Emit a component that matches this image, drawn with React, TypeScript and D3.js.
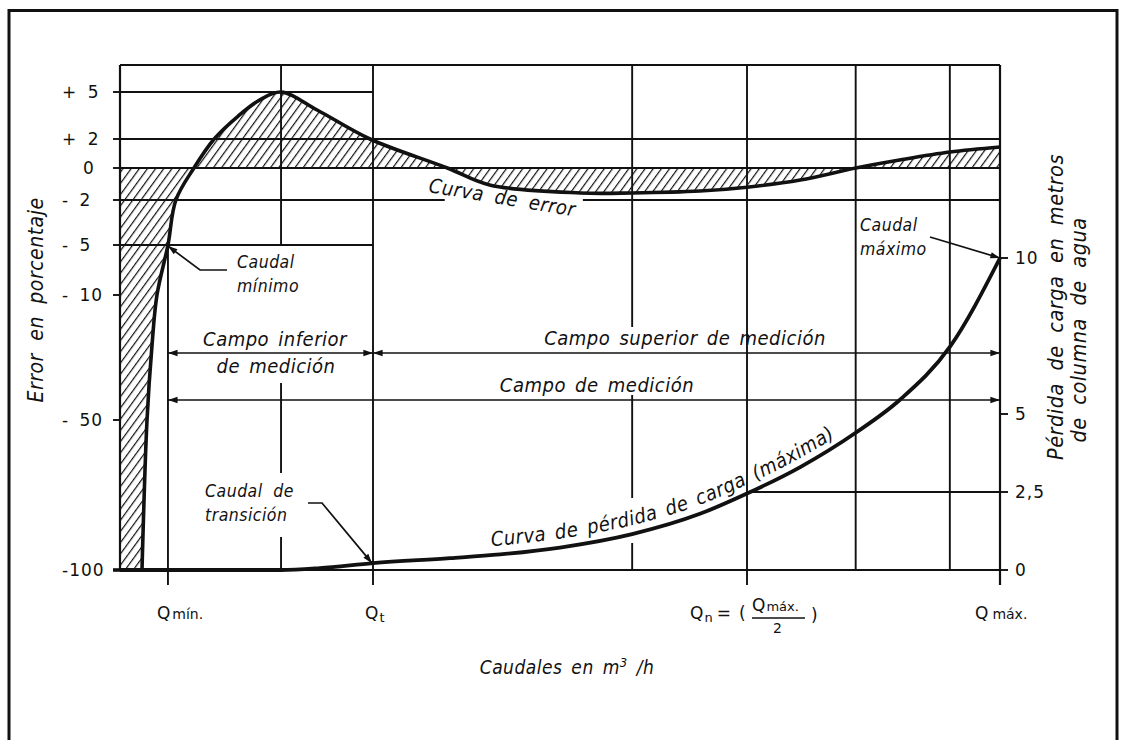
import React from 'react';
import * as d3 from 'd3';

// ---------- data ----------
// x is flow in arbitrary units: 0 = axis origin, 100 = Q máx.
const flowTickQ = [5.45, 28.75, 71.25, 100]; // Qmín, Qt, Qn, Qmáx
const extraGridQ = [18.3, 58.2, 83.6, 94.3];

const errTicks = [5, 2, 0, -2, -5, -10, -50, -100];
const errTickLabels = ['+ 5', '+ 2', '0', '- 2', '- 5', '- 10', '- 50', '-100'];

const lossTicks = [10, 5, 2.5, 0];
const lossTickLabels = ['10', '5', '2,5', '0'];

// error curve (% error vs flow)
const errQ = [2.5, 3.07, 3.64, 4.2, 5.45, 6.35, 8.4, 10.7, 13.4, 15.9, 18.3, 22.4, 28.4, 37.2, 42.0, 52.3, 58.2, 65.9, 71.25, 77.3, 83.6, 88.6, 94.3, 100];
const errVal = [-100, -50, -26, -10, -5, -2, 0, 2, 3.45, 4.5, 5, 3.85, 2, 0, -1.06, -1.56, -1.56, -1.44, -1.2, -0.75, 0, 0.55, 1.1, 1.45];

// head-loss curve (m water column vs flow)
const lossQ = [0, 18.3, 22.7, 28.75, 37.5, 43.2, 50, 58.2, 65.9, 71.25, 77.3, 83.6, 88.6, 94.3, 100];
const lossVal = [0, 0, 0.06, 0.22, 0.38, 0.5, 0.72, 1.15, 1.8, 2.45, 3.3, 4.4, 5.45, 7.15, 10];

// ---------- layout ----------
const W = 1123;
const H = 740;
const FONT = "'DejaVu Sans Condensed', 'Liberation Sans Narrow', 'DejaVu Sans', sans-serif";
const FONT_UP = "'DejaVu Sans', sans-serif";

export default function App() {
  const x = d3.scaleLinear().domain([0, 100]).range([120, 1000]);
  const yErr = d3
    .scaleLinear()
    .domain([-100, -50, -10, -5, -2, 0, 2, 5])
    .range([570, 420, 295, 245, 200, 168, 139, 92]);
  const yLoss = d3.scaleLinear().domain([0, 10]).range([570, 258]);

  const top = 65;
  const bottom = yErr(-100);
  const tickLen = 7;
  const below = bottom + 15;

  const errPts = errQ.map((q, i) => [x(q), yErr(errVal[i])] as [number, number]);
  const lossPts = lossQ.map((q, i) => [x(q), yLoss(lossVal[i])] as [number, number]);

  const curve = d3.line().curve(d3.curveCatmullRom.alpha(0.5));
  const mono = d3.line().curve(d3.curveMonotoneX);
  const errPath = curve(errPts) as string;
  const lossPath = mono(lossPts) as string;
  const lossLabelPath = mono(lossPts.map(([a, b]) => [a, b - 9] as [number, number])) as string;

  const hatchPath =
    `M${x(0)},${yErr(-100)} L` +
    errPath.slice(1) +
    ` L${x(100)},${yErr(0)} L${x(0)},${yErr(0)} Z`;

  // horizontal grid spans [fromQ, toQ] for each error tick
  const hSpans: Record<string, [number, number][]> = {
    '5': [[0, 28.75]],
    '2': [[0, 100]],
    '0': [[0, 100]],
    '-2': [[0, 36.9], [52.6, 100]],
    '-5': [[0, 28.75]],
    '-10': [],
    '-50': [],
    '-100': [[0, 100]],
  };

  // vertical grid segments (pixel y ranges) per flow position
  const vSegs: [number, [number, number][]][] = [
    [0, [[top, bottom]]],
    [flowTickQ[0], [[yErr(-5), below]]],
    [extraGridQ[0], [[top, yErr(-5)], [383, 473], [537, bottom]]],
    [flowTickQ[1], [[top, below]]],
    [extraGridQ[1], [[top, 327], [395, 498], [543, bottom]]],
    [flowTickQ[2], [[top, below]]],
    [extraGridQ[2], [[top, bottom]]],
    [extraGridQ[3], [[top, bottom]]],
    [flowTickQ[3], [[top, below]]],
  ];

  const ital = {
    fontFamily: FONT,
    fontStyle: 'italic' as const,
    fontSize: 20,
    letterSpacing: 0.5,
    wordSpacing: 3,
    fill: '#111',
  };
  const small = { ...ital, fontSize: 17.5 };
  const title = { ...ital, fontSize: 21.5, wordSpacing: 6 };
  const upright = { fontFamily: FONT_UP, fontSize: 17, fill: '#111', wordSpacing: 4, letterSpacing: 1 };
  const gridStroke = { stroke: '#111', strokeWidth: 1.9, fill: 'none' };

  return (
    <svg
      width={W}
      height={H}
      viewBox={`0 0 ${W} ${H}`}
      style={{ position: 'absolute', left: 0, top: 0, background: '#fff' }}
    >
      <defs>
        <pattern id="hatch" patternUnits="userSpaceOnUse" width="6.6" height="10" patternTransform="rotate(36)">
          <line x1="0" y1="-2" x2="0" y2="12" stroke="#111" strokeWidth="2.4" />
        </pattern>
        <marker
          id="arr"
          viewBox="0 0 12 10"
          refX="12"
          refY="5"
          markerWidth="13"
          markerHeight="8"
          markerUnits="userSpaceOnUse"
          orient="auto-start-reverse"
        >
          <path d="M0,1 L12,5 L0,9 Z" fill="#111" />
        </marker>
      </defs>

      <rect x={0} y={0} width={W} height={H} fill="#fff" />
      {/* outer frame */}
      <rect x={9} y={10.5} width={1108} height={800} fill="none" stroke="#111" strokeWidth={3} />

      {/* top border of plot */}
      <line x1={x(0)} x2={x(100)} y1={top} y2={top} {...gridStroke} />

      {/* horizontal grid and left ticks */}
      {errTicks.map((e) => (
        <g key={`h${e}`}>
          <line x1={x(0) - tickLen} x2={x(0)} y1={yErr(e)} y2={yErr(e)} {...gridStroke} strokeWidth={e === -100 ? 3.6 : 1.9} />
          {hSpans[String(e)].map(([a, b], i) => (
            <line key={i} x1={x(a)} x2={x(b)} y1={yErr(e)} y2={yErr(e)} {...gridStroke} />
          ))}
        </g>
      ))}

      {/* right ticks */}
      {lossTicks.map((v) => (
        <line key={`r${v}`} x1={x(100)} x2={x(100) + 8} y1={yLoss(v)} y2={yLoss(v)} {...gridStroke} />
      ))}
      <line x1={x(flowTickQ[2])} x2={x(100)} y1={yLoss(2.5)} y2={yLoss(2.5)} {...gridStroke} />

      {/* vertical grid */}
      {vSegs.map(([q, segs]) =>
        segs.map(([a, b], i) => (
          <line key={`v${q}-${i}`} x1={x(q)} x2={x(q)} y1={a} y2={b} {...gridStroke} strokeWidth={q === 0 || q === 100 ? 2.2 : 1.9} />
        ))
      )}

      {/* hatched error band */}
      <path d={hatchPath} fill="url(#hatch)" fillRule="nonzero" stroke="none" />

      {/* curves */}
      <path d={errPath} fill="none" stroke="#111" strokeWidth={3.6} strokeLinejoin="round" />
      <path d={lossPath} fill="none" stroke="#111" strokeWidth={3.8} strokeLinejoin="round" />
      <path id="lossLabel" d={lossLabelPath} fill="none" stroke="none" />

      {/* range arrows */}
      <line x1={x(flowTickQ[0])} x2={x(flowTickQ[1])} y1={353} y2={353} stroke="#111" strokeWidth={1.7} markerStart="url(#arr)" markerEnd="url(#arr)" />
      <line x1={x(flowTickQ[1])} x2={x(100)} y1={353} y2={353} stroke="#111" strokeWidth={1.7} markerStart="url(#arr)" markerEnd="url(#arr)" />
      <line x1={x(flowTickQ[0])} x2={x(100)} y1={400} y2={400} stroke="#111" strokeWidth={1.7} markerStart="url(#arr)" markerEnd="url(#arr)" />

      {/* leaders */}
      <polyline points={`227,270 200,270 ${x(flowTickQ[0])},${yErr(-5) + 1}`} fill="none" stroke="#111" strokeWidth={1.7} markerEnd="url(#arr)" />
      <polyline points={`930,237 ${x(100)},${yLoss(10)}`} fill="none" stroke="#111" strokeWidth={1.7} markerEnd="url(#arr)" />
      <polyline points={`308,503 322,503 ${x(flowTickQ[1]) - 1},${yLoss(0.22)}`} fill="none" stroke="#111" strokeWidth={1.7} markerEnd="url(#arr)" />

      {/* left tick labels */}
      {errTicks.map((e, i) => (
        <text key={`lt${e}`} x={e === 0 ? 83 : 62} y={yErr(e)} dy="0.36em" {...upright}>
          {errTickLabels[i]}
        </text>
      ))}
      {/* right tick labels */}
      {lossTicks.map((v, i) => (
        <text key={`rt${v}`} x={x(100) + 15} y={yLoss(v)} dy="0.36em" {...upright}>
          {lossTickLabels[i]}
        </text>
      ))}

      {/* axis titles */}
      <text transform="translate(37,300) rotate(-90)" textAnchor="middle" dominantBaseline="middle" {...title} fontSize={21}>
        Error en porcentaje
      </text>
      <text transform="translate(1057,307) rotate(-90)" textAnchor="middle" dominantBaseline="middle" {...title}>
        Pérdida de carga en metros
      </text>
      <text transform="translate(1080,330) rotate(-90)" textAnchor="middle" dominantBaseline="middle" {...title}>
        de columna de agua
      </text>
      <text x={567} y={674} textAnchor="middle" {...ital} fontSize={19}>
        Caudales en m<tspan dy={-7} fontSize={13}>3</tspan>
        <tspan dy={7}> /h</tspan>
      </text>

      {/* x tick labels */}
      <text x={x(flowTickQ[0]) - 11} y={619} {...upright} letterSpacing={0}>
        Q<tspan fontSize={14} dx={2}>mín.</tspan>
      </text>
      <text x={x(flowTickQ[1]) - 8} y={619} {...upright}>
        Q<tspan fontSize={13} dy={3} dx={0}>t</tspan>
      </text>
      <g>
        <text x={x(flowTickQ[2]) - 57} y={619} {...upright} letterSpacing={0}>
          Q<tspan fontSize={13} dy={3} dx={1}>n</tspan>
          <tspan dy={-3} dx={4}>=</tspan>
          <tspan dx={8}>(</tspan>
        </text>
        <text x={x(flowTickQ[2]) + 5} y={611} {...upright} letterSpacing={0}>
          Q<tspan fontSize={13} dx={1}>máx.</tspan>
        </text>
        <line x1={x(flowTickQ[2]) + 5} x2={x(flowTickQ[2]) + 58} y1={618} y2={618} stroke="#111" strokeWidth={1.4} />
        <text x={x(flowTickQ[2]) + 31} y={633} textAnchor="middle" {...upright} fontSize={14}>
          2
        </text>
        <text x={x(flowTickQ[2]) + 64} y={621} {...upright}>
          )
        </text>
      </g>
      <text x={x(100) - 25} y={619} {...upright} letterSpacing={0}>
        Q<tspan fontSize={14} dx={4}>máx.</tspan>
      </text>

      {/* annotations */}
      <text x={237} y={268} {...small}>Caudal</text>
      <text x={237} y={292} {...small}>mínimo</text>
      <text x={860} y={231} {...small}>Caudal</text>
      <text x={860} y={255} {...small}>máximo</text>
      <text x={205} y={497} {...small} wordSpacing={5}>Caudal de</text>
      <text x={205} y={521} {...small}>transición</text>
      <text x={275} y={346} textAnchor="middle" {...ital}>Campo inferior</text>
      <text x={276} y={373} textAnchor="middle" {...ital}>de medición</text>
      <text x={685} y={345} textAnchor="middle" {...ital}>Campo superior de medición</text>
      <text x={597} y={392} textAnchor="middle" {...ital}>Campo de medición</text>
      <text transform="translate(428,192) rotate(9.5)" {...ital} wordSpacing={5}>Curva de error</text>
      <text {...ital}>
        <textPath href="#lossLabel" startOffset={372}>
          Curva de pérdida de carga (máxima)
        </textPath>
      </text>
    </svg>
  );
}
